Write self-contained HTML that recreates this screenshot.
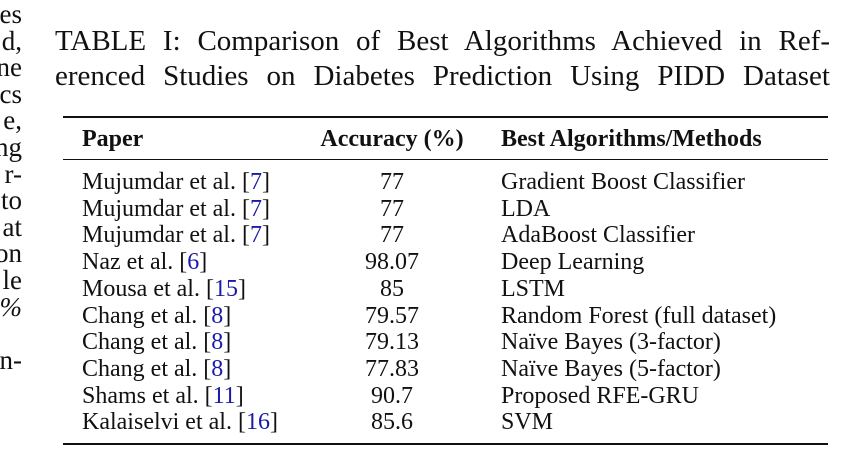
<!DOCTYPE html>
<html><head><meta charset="utf-8">
<style>
html,body{margin:0;padding:0;background:#fff;}
body{width:860px;height:474px;position:relative;overflow:hidden;font-family:"Liberation Serif",serif;color:#111;}
.a{position:absolute;white-space:nowrap;line-height:1;}
.frag{position:absolute;right:838px;font-size:27px;line-height:1;}
.ti{position:absolute;left:55px;width:775px;font-size:29px;line-height:1;text-align:justify;text-align-last:justify;white-space:nowrap;}
.rule{position:absolute;left:63px;width:765px;background:#111;}
.row{position:absolute;left:0;width:860px;font-size:24px;line-height:1;}
.c1{position:absolute;left:82px;}
.c2{position:absolute;left:342px;width:100px;text-align:center;}
.c3{position:absolute;left:501px;}
.ref{color:#1a1aa6;}
.h{font-weight:bold;}
</style></head>
<body>
<div class="a" style="left:58px;top:-23px;font-size:25px;">dataset are summarized in <span style="color:#1a1aa6">Table I</span>.</div>
<div id="frags"></div>
<div class="ti" style="top:27px;">TABLE I: Comparison of Best Algorithms Achieved in Ref-</div>
<div class="ti" style="top:62px;">erenced Studies on Diabetes Prediction Using PIDD Dataset</div>
<div class="rule" style="top:116px;height:2px;"></div>
<div class="row h" style="top:127px;">
<span class="c1">Paper</span>
<span class="c2" style="left:307px;width:170px;">Accuracy (%)</span>
<span class="c3">Best Algorithms/Methods</span>
</div>
<div class="rule" style="top:159px;height:1.3px;"></div>
<div id="rows"></div>
<div class="rule" style="top:443px;height:2px;"></div>
<script>
const authors=["Mujumdar et al.","Mujumdar et al.","Mujumdar et al.","Naz et al.","Mousa et al.","Chang et al.","Chang et al.","Chang et al.","Shams et al.","Kalaiselvi et al."];
const refs=["7","7","7","6","15","8","8","8","11","16"];
const accuracy=["77","77","77","98.07","85","79.57","79.13","77.83","90.7","85.6"];
const methods=["Gradient Boost Classifier","LDA","AdaBoost Classifier","Deep Learning","LSTM","Random Forest (full dataset)","Naïve Bayes (3-factor)","Naïve Bayes (5-factor)","Proposed RFE-GRU","SVM"];
const fragTexts=["es","d,","ne","cs","e,","ng","r-","to","at","on","le","%","","n-"];
const rows=document.getElementById('rows');
for(let i=0;i<authors.length;i++){
  const r=document.createElement('div');
  r.className='row';
  r.style.top=(170+i*26.7)+'px';
  
  
  const a=document.createElement('span');a.className='c1';
  
  
  a.innerHTML=authors[i]+' [<span class="ref">'+refs[i]+'</span>]';
  const b=document.createElement('span');b.className='c2';
  
  
  b.textContent=accuracy[i];
  const c=document.createElement('span');c.className='c3';
  
  
  c.textContent=methods[i];
  r.appendChild(a);r.appendChild(b);r.appendChild(c);rows.appendChild(r);
}
const fr=document.getElementById('frags');
for(let i=0;i<fragTexts.length;i++){
  if(!fragTexts[i])continue;
  const f=document.createElement('div');f.className='frag';
  
  
  f.style.top=(1+i*26.6)+'px';
  if(fragTexts[i]==='%')f.style.fontStyle='italic';
  f.textContent=fragTexts[i];
  fr.appendChild(f);
}
</script>
</body></html>
